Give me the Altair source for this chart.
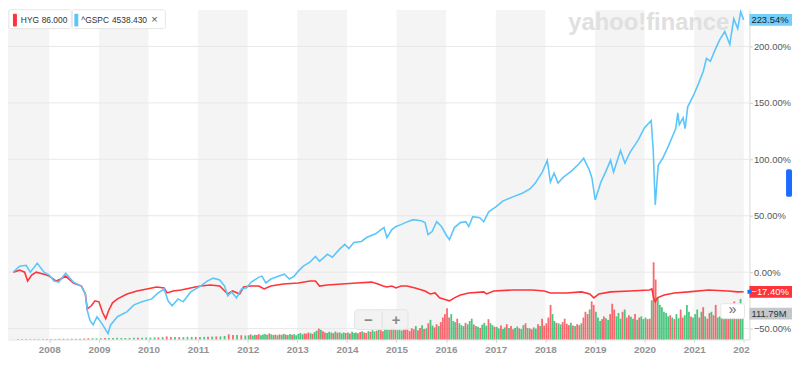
import altair as alt
import pandas as pd

# ---------------- data ----------------
spx_dates = ["2007-04-11", "2007-05-28", "2007-07-15", "2007-08-15", "2007-10-05", "2007-11-24",
             "2008-01-01", "2008-02-05", "2008-03-11", "2008-05-01", "2008-06-27", "2008-08-25",
             "2008-09-23", "2008-10-07", "2008-10-28", "2008-11-19", "2008-12-18", "2009-01-23",
             "2009-03-09", "2009-03-27", "2009-05-17", "2009-07-28", "2009-09-16", "2009-11-14",
             "2010-01-25", "2010-03-13", "2010-04-26", "2010-05-25", "2010-06-24", "2010-08-07",
             "2010-09-13", "2010-11-08", "2011-01-19", "2011-03-09", "2011-04-22", "2011-06-10",
             "2011-07-15", "2011-08-07", "2011-09-05", "2011-10-11", "2011-11-17", "2011-12-22",
             "2012-01-28", "2012-03-24", "2012-04-15", "2012-05-14", "2012-06-20", "2012-08-18",
             "2012-09-27", "2012-11-03", "2012-12-09", "2013-01-08", "2013-02-14", "2013-04-03",
             "2013-05-14", "2013-06-13", "2013-08-10", "2013-09-16", "2013-11-06", "2013-12-16",
             "2014-01-15", "2014-02-21", "2014-04-18", "2014-05-25", "2014-08-03", "2014-09-09",
             "2014-10-01", "2014-10-22", "2014-11-28", "2014-12-28", "2015-02-03", "2015-03-07",
             "2015-05-03", "2015-07-01", "2015-07-30", "2015-08-21", "2015-09-20", "2015-10-24",
             "2015-11-28", "2016-01-04", "2016-01-26", "2016-03-02", "2016-04-15", "2016-05-25",
             "2016-06-16", "2016-07-15", "2016-09-05", "2016-10-04", "2016-11-10", "2017-01-01",
             "2017-02-24", "2017-05-07", "2017-07-19", "2017-09-09", "2017-10-19", "2017-12-09",
             "2018-01-15", "2018-02-07", "2018-03-06", "2018-04-04", "2018-05-14", "2018-07-12",
             "2018-09-02", "2018-10-10", "2018-11-21", "2018-12-10", "2019-01-03", "2019-02-14",
             "2019-03-20", "2019-04-26", "2019-05-18", "2019-07-08", "2019-08-10", "2019-09-16",
             "2019-11-14", "2020-01-01", "2020-02-19", "2020-03-05", "2020-03-20", "2020-04-11",
             "2020-05-14", "2020-06-27", "2020-08-18", "2020-09-02", "2020-09-13", "2020-10-11",
             "2020-10-26", "2020-11-14", "2020-12-28", "2021-02-03", "2021-03-09", "2021-04-01",
             "2021-04-30", "2021-06-05", "2021-07-08", "2021-08-14", "2021-09-20", "2021-10-19",
             "2021-11-17", "2021-12-09", "2021-12-31"]
spx_pct = [0, 5.3, 6.1, 0, 7.9, 0,
           -2.6, -7.9, -8.8, -0.9, -8.8, -12.3,
           -19.3, -34, -43, -46.5, -39.5, -45.6,
           -54.4, -47, -39.5, -35, -29, -26.3,
           -23.7, -18.4, -14.9, -25.4, -29.8, -23.7,
           -26.3, -17.5, -12.3, -7.9, -5.3, -7,
           -12.3, -21, -17.5, -22.8, -14.9, -14,
           -8.8, -4.4, -3.5, -9.6, -6.1, -3.5,
           -1.8, -6.1, -3.5, 0.9, 5.3, 8.8,
           14, 9.6, 15.8, 13.2, 20.2, 24.6,
           21, 26.3, 27.2, 30.7, 34.2, 37.7,
           39.5, 30.7, 37.7, 40.4, 42.1, 43.9,
           46.5, 45.6, 43.9, 33.3, 36, 44.7,
           40.4, 32.5, 28.9, 39.5, 43.9, 44.7,
           40.4, 49.1, 48.2, 44.7, 53.5, 57.9,
           63.2, 66.7, 70.2, 73.7, 78.9, 88.6,
           99.1, 79.8, 87.7, 78.9, 84.2, 89.5,
           95.6, 100.9, 90.4, 83.3, 64, 79.8,
           88.6, 99.1, 88.6, 107.9, 96.5, 106.1,
           116.7, 128, 134.2, 108, 59.6, 94.7,
           100.9, 112.3, 127.2, 141.2, 130.7, 136.8,
           127.2, 146.5, 157, 167.5, 178, 189.5,
           186.8, 197.4, 206.1, 213.2, 201.8, 224.6,
           215.8, 230.7, 223.54]

hyg_dates = ["2007-04-11", "2007-05-28", "2007-07-04", "2007-07-26", "2007-08-25", "2007-09-27",
             "2007-11-24", "2008-01-01", "2008-02-21", "2008-03-27", "2008-05-01", "2008-06-27",
             "2008-08-25", "2008-09-23", "2008-10-07", "2008-11-06", "2008-12-03", "2009-01-01",
             "2009-01-29", "2009-02-20", "2009-03-13", "2009-04-11", "2009-05-18", "2009-07-27",
             "2009-10-08", "2009-12-20", "2010-03-02", "2010-04-26", "2010-05-18", "2010-07-01",
             "2010-08-29", "2010-11-06", "2011-01-19", "2011-04-01", "2011-06-10", "2011-08-07",
             "2011-09-12", "2011-11-03", "2011-12-02", "2012-01-26", "2012-03-24", "2012-05-01",
             "2012-06-20", "2012-09-20", "2013-01-08", "2013-04-05", "2013-05-14", "2013-06-13",
             "2013-08-10", "2013-11-24", "2014-03-13", "2014-07-01", "2014-08-18", "2014-09-24",
             "2014-10-22", "2014-11-28", "2014-12-28", "2015-02-03", "2015-03-20", "2015-05-18",
             "2015-07-30", "2015-09-06", "2015-10-12", "2015-11-14", "2016-01-04", "2016-01-26",
             "2016-03-02", "2016-04-15", "2016-06-16", "2016-10-04", "2016-10-26", "2016-12-16",
             "2017-05-07", "2017-09-27", "2017-12-24", "2018-02-07", "2018-06-05", "2018-09-24",
             "2018-11-24", "2018-12-24", "2019-01-30", "2019-04-26", "2019-09-16", "2020-02-06",
             "2020-02-24", "2020-03-06", "2020-03-20", "2020-04-04", "2020-05-25", "2020-08-07",
             "2020-11-21", "2021-04-16", "2021-09-06", "2021-11-17", "2021-12-31"]
hyg_pct = [0, 1.8, 0, -7.9, -2.6, 0,
           -1.8, -3.5, -7.9, -6.1, -3.5, -9.6,
           -12.3, -19.3, -32.5, -29.8, -25.4, -26.3,
           -36, -41.2, -34.2, -27.2, -23.7, -19.3,
           -16.7, -14.9, -13.2, -14, -18.4, -16.7,
           -15.8, -14, -12.3, -11.4, -12.3, -19.3,
           -16.7, -19.3, -13.2, -12.3, -12.3, -14.9,
           -12.3, -10.5, -9.6, -7.9, -7.9, -12.3,
           -11.4, -10.5, -9.6, -8.8, -10.5, -12.3,
           -13.2, -12.3, -14, -12.3, -12.3, -14,
           -16.7, -19.3, -18.4, -22.8, -24.6, -25.4,
           -22.8, -20.2, -18.4, -17.5, -19.3, -16.7,
           -15.8, -15.8, -16.7, -18.4, -18.4, -17.5,
           -19.3, -22.8, -19.3, -17.5, -16.7, -15.8,
           -14.9, -21.9, -26.3, -22.8, -20.2, -18.4,
           -17.5, -15.8, -16.7, -17.5, -17.40]

# HYG volume (millions): monthly lists (12 values, 2007 starts in May) or
# half-monthly lists (24 values); g = up period, r = down period
vol_years = [2007, 2008, 2009, 2010, 2011, 2012, 2013, 2014, 2015, 2016, 2017, 2018, 2019, 2020, 2021]
vol_values = [
    [2, 2, 2, 2, 2, 2, 2, 2],
    [2, 2, 3, 3, 3, 3, 3, 3, 4, 5, 5, 5],
    [5, 6, 6, 6, 7, 6, 6, 6, 7, 7, 7, 8],
    [8, 9, 9, 10, 13, 11, 10, 10, 10, 11, 11, 11],
    [11, 11, 12, 12, 13, 13, 15, 22, 19, 19, 18, 17],
    [18, 22, 17, 20, 19, 23, 18, 21, 24, 20, 26, 22, 19, 21, 18, 22, 20, 24, 21, 19, 23, 20, 22, 18],
    [24, 28, 22, 26, 25, 30, 27, 24, 32, 38, 47, 42, 36, 30, 28, 33, 30, 27, 34, 29, 31, 26, 30, 28],
    [30, 26, 33, 28, 30, 27, 32, 35, 30, 28, 36, 33, 40, 35, 38, 44, 40, 36, 55, 48, 44, 52, 50, 56],
    [40, 52, 38, 47, 55, 42, 36, 48, 44, 58, 40, 50, 62, 45, 48, 70, 85, 60, 52, 66, 58, 75, 95, 110],
    [135, 95, 110, 80, 75, 90, 70, 62, 58, 72, 66, 80, 90, 65, 58, 55, 50, 64, 72, 60, 88, 70, 62, 55],
    [55, 48, 60, 45, 52, 66, 50, 58, 44, 50, 56, 48, 45, 62, 70, 50, 48, 44, 52, 47, 66, 58, 90, 60],
    [70, 95, 150, 110, 80, 72, 70, 65, 75, 90, 68, 62, 72, 60, 58, 66, 62, 70, 95, 120, 110, 130, 165, 150],
    [120, 95, 80, 88, 100, 92, 85, 110, 155, 130, 100, 115, 90, 120, 130, 95, 105, 98, 90, 110, 85, 95, 100, 88],
    [95, 88, 90, 170, 335, 260, 180, 150, 140, 120, 115, 100, 105, 95, 88, 110, 92, 130, 95, 105, 150, 120, 100, 95],
    [110, 130, 95, 120, 140, 100, 90, 115, 120, 105, 150, 95, 100, 125, 110, 130, 95, 150, 120, 165, 140, 110, 176, 111.79],
]
vol_dirs = ["gggrrggr", "rrgrgrrgrrgg", "grgggggggrgg", "ggrgrrgrgggr", "ggrgrggrrgrg",
            "grggrrggggrggrgrggrggrgg", "gggrrrgrggrgrrgggrgrgggr", "grgggrrgrrgrggrgrrgggrgr",
            "gggrrrrrrgrrgrgrggrrgrrr", "rrgggrgggrgggrggrgggrggr", "ggrggrgrrggrggrgrrggrgrr",
            "rrrggrggrrrrgrgrrgrrrgrr", "gggrrggrrrgggrgrrggrgrgg", "grrgrrggggggrgrggrrgggrg",
            "ggrgrgrrgrrggrgrrggrgrgg"]

band_years = [2007, 2009, 2011, 2013, 2015, 2017, 2019, 2021]
grid_values = [-50, 0, 50, 100, 150, 200]
tick_years = list(range(2008, 2023))

legend_hyg = ["HYG", "86.000"]
legend_spx = ["^GSPC", "4538.430"]

# ---------------- tables ----------------
spx = pd.DataFrame({"date": spx_dates, "pct": spx_pct})
hyg = pd.DataFrame({"date": hyg_dates, "pct": hyg_pct})

vrows = []
for yr, vals, dirs in zip(vol_years, vol_values, vol_dirs):
    if len(vals) == 24:
        for i, (v, d) in enumerate(zip(vals, dirs)):
            vrows.append({"date": f"{yr}-{i // 2 + 1:02d}-{8 if i % 2 == 0 else 23:02d}",
                          "vol": v, "dir": d})
    else:
        first = 13 - len(vals)
        for i, (v, d) in enumerate(zip(vals, dirs)):
            vrows.append({"date": f"{yr}-{first + i:02d}-15", "vol": v, "dir": d})
vol = pd.DataFrame(vrows)

bands = pd.DataFrame({"start": [f"{y}-01-01" for y in band_years],
                      "end": [f"{y + 1}-01-01" for y in band_years]})
grid = pd.DataFrame({"g": grid_values})

end_pct = pd.DataFrame({
    "pct": [spx_pct[-1], hyg_pct[-1]],
    "fill": ["#74cffb", "#ff333a"],
    "tcol": ["#1b1f23", "#ffffff"],
})
end_vol = pd.DataFrame({"vol": [vol_values[-1][-1]]})
one = pd.DataFrame({"a": [0]})

# ---------------- scales / encodings ----------------
W, H = 749, 333
xscale = alt.Scale(domain=[alt.DateTime(year=2007, month=4, date=9),
                           alt.DateTime(year=2022, month=1, date=6)], nice=False)
xaxis = alt.Axis(values=[alt.DateTime(year=y, month=1, date=1) for y in tick_years],
                 format="%Y", title=None, grid=False, labelFlush=False, labelOverlap=False,
                 labelColor="#939393", labelFont="Liberation Sans", labelFontSize=10,
                 labelFontWeight="bold", labelPadding=2,
                 tickSize=3, tickColor="#d6d6d6", domainColor="#dedede")
yscale = alt.Scale(domain=[-59.6, 232.5], nice=False, zero=False)
vscale = alt.Scale(domain=[0, 1432], nice=False, zero=True)


def X(field):
    return alt.X(field, type="temporal", scale=xscale, axis=xaxis)


band_layer = alt.Chart(bands).mark_rect(color="#f4f4f4", clip=True).encode(
    x=X("start"), x2="end:T")

grid_layer = alt.Chart(grid).mark_rule(color="#e8e8e8", strokeWidth=1).encode(
    y=alt.Y("g:Q", scale=yscale, axis=None))

watermark = alt.Chart(one).mark_text(
    text="yahoo!finance", font="Liberation Sans", fontSize=24, fontWeight="bold",
    color="#e0e0e0", align="left", baseline="alphabetic").encode(
    x=alt.value(566), y=alt.value(20))

vol_layer = alt.Chart(vol).mark_bar(width=1.8, opacity=0.8).encode(
    x=X("date"),
    y=alt.Y("vol:Q", scale=vscale, axis=None),
    color=alt.Color("dir:N", scale=alt.Scale(domain=["g", "r"], range=["#1fb860", "#f7434b"]),
                    legend=None))

hyg_layer = alt.Chart(hyg).mark_line(color="#ff333a", strokeWidth=1.6).encode(
    x=X("date"), y=alt.Y("pct:Q", scale=yscale, axis=None))

spx_layer = alt.Chart(spx).mark_line(color="#5cc6fb", strokeWidth=1.6).encode(
    x=X("date"),
    y=alt.Y("pct:Q", scale=yscale, title=None,
            axis=alt.Axis(orient="right", values=grid_values, grid=False,
                          labelExpr="format(datum.value, '.2f') + '%'",
                          labelColor="#4f5860", labelFont="Liberation Sans", labelFontSize=9.5,
                          labelPadding=1, tickSize=3, tickColor="#cfcfcf",
                          domainColor="#d9d9d9")))

box_shape = "M-1,-0.27L1,-0.27L1,0.27L-1,0.27Z"
end_boxes = alt.Chart(end_pct).mark_point(shape=box_shape, size=44 * 44, filled=True,
                                          opacity=1, strokeWidth=0).encode(
    x=alt.value(771), y=alt.Y("pct:Q", scale=yscale, axis=None),
    color=alt.Color("fill:N", scale=None))
end_text = alt.Chart(end_pct).transform_calculate(
    lbl="format(datum.pct, '.2f') + '%'").mark_text(
    align="left", baseline="middle", font="Liberation Sans", fontSize=9.5).encode(
    x=alt.value(751), y=alt.Y("pct:Q", scale=yscale, axis=None),
    text="lbl:N", color=alt.Color("tcol:N", scale=None))

vol_box = alt.Chart(end_vol).mark_point(shape=box_shape, size=44 * 44, filled=True,
                                        opacity=1, strokeWidth=0, color="#c4c8cc").encode(
    x=alt.value(771), y=alt.Y("vol:Q", scale=vscale, axis=None))
vol_text = alt.Chart(end_vol).transform_calculate(
    lbl="format(datum.vol, '.2f') + 'M'").mark_text(
    align="left", baseline="middle", font="Liberation Sans", fontSize=9.5, color="#2d3338").encode(
    x=alt.value(751), y=alt.Y("vol:Q", scale=vscale, axis=None), text="lbl:N")

end_dot = alt.Chart(end_pct.iloc[[1]]).mark_point(shape="square", size=16, filled=True,
                                                   opacity=1, color="#1a73ff").encode(
    x=alt.value(749), y=alt.Y("pct:Q", scale=yscale, axis=None))

# cover for the clipped last year label
cover = alt.Chart(one).mark_rect(color="white").encode(
    x=alt.value(749.5), x2=alt.value(792), y=alt.value(334), y2=alt.value(352))


def box(x1, x2, y1, y2, fill, stroke=None, radius=0, opacity=1):
    kw = dict(color=fill, opacity=opacity, cornerRadius=radius)
    if stroke:
        kw.update(stroke=stroke, strokeWidth=1)
    return alt.Chart(one).mark_rect(**kw).encode(
        x=alt.value(x1), x2=alt.value(x2), y=alt.value(y1), y2=alt.value(y2))


def label(txt, x, y, size=8.5, color="#333333", align="left", weight="normal"):
    return alt.Chart(one).mark_text(text=txt, font="Liberation Sans", fontSize=size,
                                    color=color, align=align, baseline="middle",
                                    fontWeight=weight).encode(
        x=alt.value(x), y=alt.value(y))


decor = [
    box(1, 64, 0, 19, "#ffffff", stroke="#e6e6e6", radius=2),
    box(5, 9, 4, 17, "#ff333a", radius=1),
    label(legend_hyg[0], 13, 10),
    label(legend_hyg[1], 34, 10),
    box(65, 159, 0, 19, "#ffffff", stroke="#e6e6e6", radius=2),
    box(67, 71, 4, 17, "#5cc6fb", radius=1),
    label(legend_spx[0], 74, 10),
    label(legend_spx[1], 105, 10),
    label("×", 148, 10, size=11, color="#555555", align="center"),
    box(350, 404, 303, 323, "#f2f2f2", stroke="#e3e3e3", radius=3, opacity=0.95),
    box(377.5, 378.5, 305, 321, "#e0e0e0"),
    label("−", 364, 313, size=15, color="#888888", align="center", weight="bold"),
    label("+", 392, 313, size=15, color="#888888", align="center", weight="bold"),
    box(720, 744, 297, 312, "#ffffff", stroke="#e6e6e6", radius=2),
    label("»", 732, 303.5, size=14, color="#666666", align="center"),
    box(786, 792, 161, 189, "#1a6dff", radius=2),
]

chart = alt.layer(
    band_layer, grid_layer, watermark, vol_layer, hyg_layer, spx_layer,
    end_boxes, end_text, vol_box, vol_text, end_dot, cover, *decor
).resolve_scale(y="independent").properties(
    width=W, height=H,
    autosize=alt.AutoSizeParams(type="none"),
    padding={"left": 0, "top": 0, "right": 43, "bottom": 19},
).configure_view(stroke=None)

chart.save("out.html", embed_options={"renderer": "svg", "actions": False})
